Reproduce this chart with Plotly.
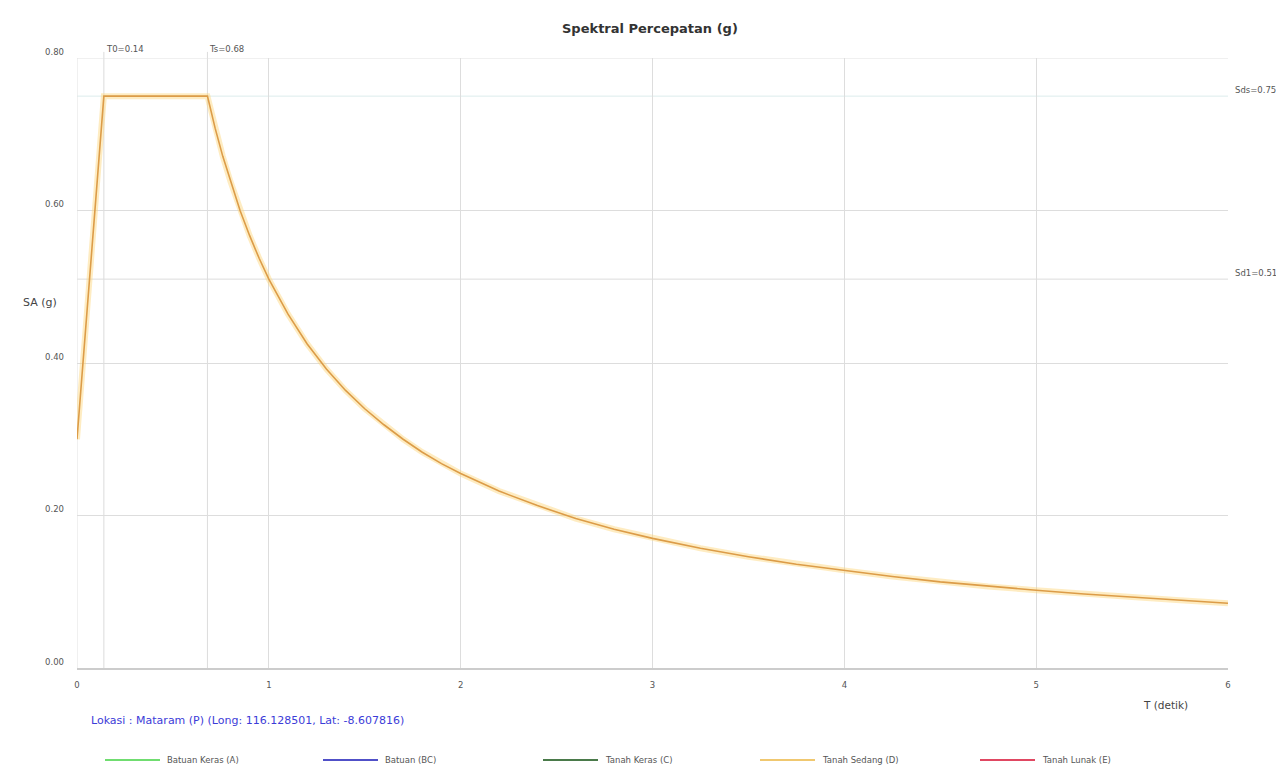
import plotly.graph_objects as go

# Data
T = [0.0, 0.14, 0.68, 0.72, 0.76, 0.80, 0.85, 0.90, 0.95, 1.0, 1.1, 1.2, 1.3, 1.4, 1.5,
     1.6, 1.7, 1.8, 1.9, 2.0, 2.2, 2.4, 2.6, 2.8, 3.0, 3.25, 3.5, 3.75, 4.0,
     4.25, 4.5, 4.75, 5.0, 5.25, 5.5, 5.75, 6.0]
SA = [0.30, 0.75, 0.75, 0.708, 0.671, 0.638, 0.600, 0.567, 0.537, 0.51, 0.464, 0.425, 0.392, 0.364, 0.340,
      0.319, 0.300, 0.283, 0.268, 0.255, 0.232, 0.213, 0.196, 0.182, 0.170, 0.157, 0.146, 0.136, 0.128,
      0.120, 0.113, 0.107, 0.102, 0.097, 0.093, 0.089, 0.085]

T0 = 0.14
Ts = 0.68
SDS = 0.75
SD1 = 0.51

x_ticks = [0, 1, 2, 3, 4, 5, 6]
y_ticks = [0.0, 0.2, 0.4, 0.6, 0.8]

series_names = ["Batuan Keras (A)", "Batuan (BC)", "Tanah Keras (C)", "Tanah Sedang (D)", "Tanah Lunak (E)"]
series_colors = ["#70dd70", "#5050c8", "#4a7a4a", "#f0c870", "#e04862"]

title = "Spektral Percepatan (g)"
lokasi = "Lokasi : Mataram (P) (Long: 116.128501, Lat: -8.607816)"

W, H = 1276, 763
ML, MR, MT, MB = 69, 56, 50, 103
PW = W - ML - MR
PH = H - MT - MB

fig = go.Figure()

# glow under the curve
fig.add_trace(go.Scatter(x=T, y=SA, mode="lines",
                         line=dict(color="rgba(252,212,120,0.45)", width=6),
                         hoverinfo="skip", showlegend=False))
fig.add_trace(go.Scatter(x=T, y=SA, mode="lines", name="Tanah Sedang (D)",
                         line=dict(color="#dc9c48", width=1.6), showlegend=False))

# reference lines
fig.add_shape(type="line", xref="x", yref="y", x0=0, x1=6, y0=SDS, y1=SDS,
              line=dict(color="#dcecec", width=1), layer="below")
fig.add_shape(type="line", xref="x", yref="y", x0=0, x1=6, y0=SD1, y1=SD1,
              line=dict(color="#dcdcdc", width=1), layer="below")
fig.add_shape(type="line", xref="x", yref="y", x0=0, x1=6, y0=y_ticks[-1], y1=y_ticks[-1],
              line=dict(color="#e2e2e2", width=1), layer="below")
fig.add_shape(type="line", xref="x", yref="y", x0=x_ticks[0], x1=x_ticks[0], y0=0, y1=y_ticks[-1],
              line=dict(color="#e2e2e2", width=1), layer="below")
for v in (T0, Ts):
    fig.add_shape(type="line", xref="x", yref="paper", x0=v, x1=v, y0=0, y1=1.01,
                  line=dict(color="#dcdcdc", width=1), layer="below")

small = dict(family="DejaVu Sans", size=8.5, color="#555555")
annotations = [
    dict(text="<b>" + title + "</b>", xref="paper", yref="paper", x=(650 - 77) / PW, y=1.048,
         xanchor="center", yanchor="middle", showarrow=False,
         font=dict(family="DejaVu Sans", size=13, color="#333333")),
    dict(text="T0=0.14", xref="x", yref="paper", x=T0, y=1.004, xanchor="left", yanchor="bottom",
         showarrow=False, font=small),
    dict(text="Ts=0.68", xref="x", yref="paper", x=Ts, y=1.004, xanchor="left", yanchor="bottom",
         showarrow=False, font=small),
    dict(text="Sds=0.75", xref="paper", yref="y", x=1.004, y=SDS, xanchor="left", yanchor="middle",
         yshift=6, showarrow=False, font=small),
    dict(text="Sd1=0.51", xref="paper", yref="y", x=1.004, y=SD1, xanchor="left", yanchor="middle",
         yshift=6, showarrow=False, font=small),
    dict(text="SA (g)", xref="paper", yref="paper", x=(40 - 77) / PW, y=(668 - 302) / PH,
         xanchor="center", yanchor="middle", showarrow=False,
         font=dict(family="DejaVu Sans", size=11, color="#444444")),
    dict(text="T (detik)", xref="paper", yref="paper", x=(1165 - 77) / PW, y=-(705 - 668) / PH,
         xanchor="center", yanchor="middle", showarrow=False,
         font=dict(family="DejaVu Sans", size=10.5, color="#444444")),
    dict(text=lokasi, xref="paper", yref="paper", x=(89 - 77) / PW, y=-(720 - 668) / PH,
         xanchor="left", yanchor="middle", showarrow=False,
         font=dict(family="DejaVu Sans", size=11, color="#3c3cd8")),
]

# custom legend
start_px = [105, 323, 543, 760, 980]
ly = -(760 - 668) / PH
for name, col, sx in zip(series_names, series_colors, start_px):
    fig.add_shape(type="line", xref="paper", yref="paper",
                  x0=(sx - 77) / PW, x1=(sx + 55 - 77) / PW, y0=ly, y1=ly,
                  line=dict(color=col, width=2))
    annotations.append(dict(text=name, xref="paper", yref="paper", x=(sx + 60 - 77) / PW, y=ly,
                            xanchor="left", yanchor="middle", showarrow=False,
                            font=dict(family="DejaVu Sans", size=8.5, color="#555555")))

fig.update_layout(
    width=W, height=H,
    margin=dict(l=ML, r=MR, t=MT, b=MB),
    paper_bgcolor="white", plot_bgcolor="white",
    showlegend=False,
    annotations=annotations,
    xaxis=dict(range=[0, 6], tickvals=x_ticks, ticktext=[str(v) for v in x_ticks],
               showgrid=True, gridcolor="#dddddd", gridwidth=1, zeroline=False,
               showline=True, linecolor="#cccccc", linewidth=2, mirror=False,
               ticks="", ticklabelstandoff=8,
               tickfont=dict(family="DejaVu Sans", size=8.5, color="#555555")),
    yaxis=dict(range=[0, 0.8], tickvals=y_ticks, ticktext=["%.2f" % v for v in y_ticks],
               showgrid=True, gridcolor="#dddddd", gridwidth=1, zeroline=False,
               showline=False, ticks="", ticklabelstandoff=12, ticklabelshift=-6,
               tickfont=dict(family="DejaVu Sans", size=8.5, color="#555555")),
)

fig.write_html("out.html")
